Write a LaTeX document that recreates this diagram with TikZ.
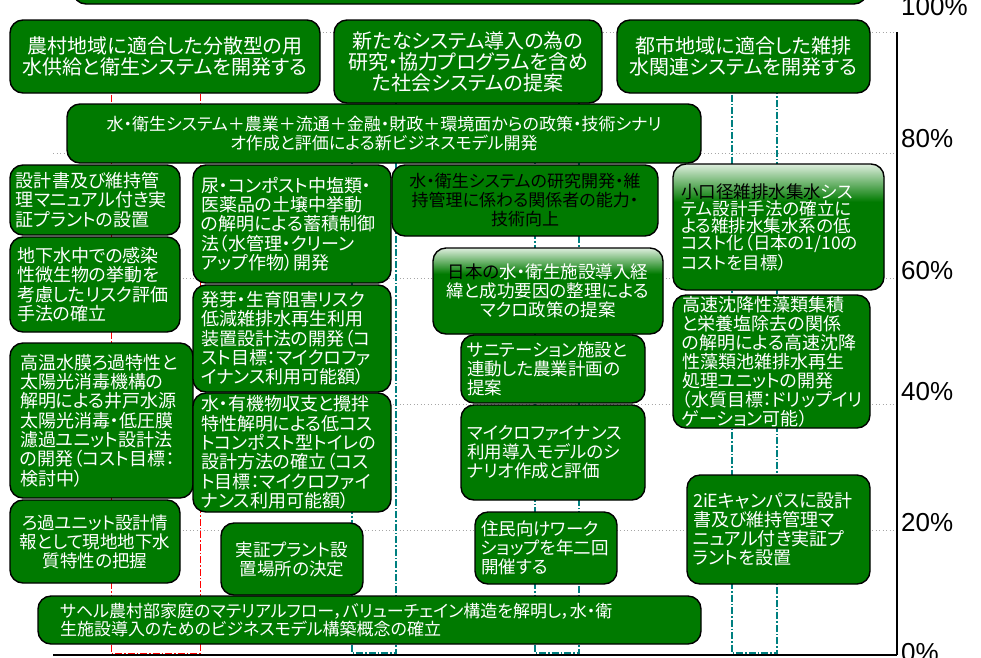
\documentclass[tikz,border=0pt]{standalone}
\usepackage{fontspec}
\newfontfamily\jpfont{Noto Sans CJK JP}[RawFeature={+palt}]
\newfontfamily\pctfont{Liberation Sans}
\definecolor{boxgreen}{RGB}{0,122,0}
\definecolor{barteal}{RGB}{0,128,128}
\definecolor{barred}{RGB}{255,0,0}
\definecolor{palegreen}{RGB}{222,238,222}
\pgfdeclareverticalshading{fadegreen}{100bp}{color(0bp)=(boxgreen); color(25bp)=(boxgreen); color(60bp)=(boxgreen); color(75bp)=(palegreen); color(100bp)=(palegreen)}
\begin{document}
\begin{tikzpicture}[x=1pt,y=-1pt,
 box/.style={draw=black, line width=1.4pt, fill=boxgreen, rounded corners=13pt, inner sep=0pt, text=white},
 lbox/.style={box, align=left},
 cbox/.style={box, align=center},
 fade/.style={shading=fadegreen},
 fbig/.style={font=\jpfont\fontsize{20}{21}\selectfont},
 fmid/.style={font=\jpfont\fontsize{18}{19.3}\selectfont},
 fsm/.style={font=\jpfont\fontsize{17.5}{19}\selectfont},
 gridln/.style={gray!70, line width=0.8pt, dash pattern=on 1pt off 2.5pt},
 redbar/.style={barred, line width=1pt, dash pattern=on 7pt off 2pt on 1.5pt off 2pt},
 tealbar/.style={barteal, line width=1.3pt, dash pattern=on 7pt off 2pt on 1.5pt off 2pt},
 pct/.style={font=\pctfont\fontsize{26}{26}\selectfont, anchor=base west, inner sep=0pt}
]
\clip (0,0) rectangle (981,657);
\fill[white] (0,0) rectangle (981,657);

% gridlines
\foreach \gy in {32,153,278,404,530}{
  \draw[gridln] (53,\gy) -- (897,\gy);
}
% bars
\draw[redbar] (111,32) -- (111,653) -- (200,653) -- (200,32);
\draw[tealbar] (352,32) -- (352,653) -- (396,653) -- (396,32);
\draw[tealbar] (535,32) -- (535,653) -- (579,653) -- (579,32);
\draw[tealbar] (732,32) -- (732,653) -- (777,653) -- (777,32);
% axes
\coordinate (axbl) at (53,655);
\coordinate (axbr) at (897,655);
\coordinate (axtr) at (897,32);
\draw[line width=1.6pt] (axbl) -- (axbr);
\draw[line width=1.3pt] (axtr) -- (axbr);

% percent labels
\node[pct] (p100) at (901,15) {100\%};
\node[pct] (p80) at (901,147) {80\%};
\node[pct] (p60) at (901,279) {60\%};
\node[pct] (p40) at (901,400) {40\%};
\node[pct] (p20) at (901,531) {20\%};
\node[pct] (p0) at (901,661) {0\%};

% boxes
\node[box, minimum width=794pt, minimum height=60pt] (topbox) at (470,-26) {};

\node[cbox, fbig, minimum width=310pt, minimum height=73pt, text width=306pt] (rural) at (165,56.5)
 {農村地域に適合した分散型の用\\水供給と衛生システムを開発する};
\node[cbox, fbig, minimum width=268pt, minimum height=83pt, text width=264pt] (newsys) at (468,61.5)
 {新たなシステム導入の為の\\研究・協力プログラムを含め\\た社会システムの提案};
\node[cbox, fbig, minimum width=253pt, minimum height=73pt, text width=249pt] (urban) at (743.5,56.5)
 {都市地域に適合した雑排\\水関連システムを開発する};

\node[cbox, font=\jpfont\fontsize{17}{18.5}\selectfont, minimum width=634pt, minimum height=59pt, text width=630pt] (policy) at (384,133.5)
 {水・衛生システム＋農業＋流通＋金融・財政＋環境面からの政策・技術シナリ\\オ作成と評価による新ビジネスモデル開発};

\node[lbox, fmid, minimum width=170pt, minimum height=70pt, text width=158pt] (plant) at (95,200)
 {設計書及び維持管\\理マニュアル付き実\\証プラントの設置};
\node[lbox, fmid, minimum width=170pt, minimum height=95pt, text width=156pt] (risk) at (95,284.5)
 {地下水中での感染\\性微生物の挙動を\\考慮したリスク評価\\手法の確立};
\node[lbox, fmid, minimum width=183pt, minimum height=155pt, text width=163pt] (membrane) at (101.5,420.5)
 {高温水膜ろ過特性と\\太陽光消毒機構の\\解明による井戸水源\\太陽光消毒・低圧膜\\濾過ユニット設計法\\の開発（コスト目標：\\検討中）};
\node[cbox, fsm, minimum width=170pt, minimum height=83pt, text width=166pt] (filter) at (95,541.5)
 {ろ過ユニット設計情\\報として現地地下水\\質特性の把握};

\node[lbox, fmid, minimum width=198pt, minimum height=118pt, text width=182pt] (urine) at (292,224)
 {尿・コンポスト中塩類・\\医薬品の土壌中挙動\\の解明による蓄積制御\\法（水管理・クリーン\\アップ作物）開発};
\node[lbox, fmid, minimum width=198pt, minimum height=107pt, text width=182pt] (germ) at (292,338.5)
 {発芽・生育阻害リスク\\低減雑排水再生利用\\装置設計法の開発（コ\\スト目標：マイクロファ\\イナンス利用可能額）};
\node[lbox, fmid, minimum width=198pt, minimum height=119pt, text width=182pt] (toilet) at (292,452.5)
 {水・有機物収支と攪拌\\特性解明による低コス\\トコンポスト型トイレの\\設計方法の確立（コス\\ト目標：マイクロファイ\\ナンス利用可能額）};
\node[cbox, fsm, minimum width=142pt, minimum height=72pt, text width=138pt] (site) at (292,559)
 {実証プラント設\\置場所の決定};

\node[lbox, font=\jpfont\fontsize{17}{17.5}\selectfont, minimum width=663pt, minimum height=48pt, text width=619pt] (sahel) at (369.5,620)
 {サヘル農村部家庭のマテリアルフロー，バリューチェイン構造を解明し，水・衛\\生施設導入のためのビジネスモデル構築概念の確立};

\node[cbox, text=black, font=\jpfont\fontsize{17}{19}\selectfont, minimum width=266pt, minimum height=71pt, text width=262pt] (capacity) at (525,200.5)
 {水・衛生システムの研究開発・維\\持管理に係わる関係者の能力・\\技術向上};
\node[cbox, fade, fsm, minimum width=230pt, minimum height=86pt, text width=226pt] (japan) at (548,291)
 {{\color{black}日本の}水・衛生施設導入経\\緯と成功要因の整理による\\マクロ政策の提案};
\node[lbox, fsm, minimum width=184pt, minimum height=68pt, text width=172pt] (agri) at (553,369)
 {サニテーション施設と\\連動した農業計画の\\提案};
\node[lbox, fsm, minimum width=184pt, minimum height=95pt, text width=172pt] (micro) at (553,452.5)
 {マイクロファイナンス\\利用導入モデルのシ\\ナリオ作成と評価};
\node[lbox, fsm, minimum width=142pt, minimum height=72pt, text width=130pt] (workshop) at (546,548)
 {住民向けワーク\\ショップを年二回\\開催する};

\node[lbox, fade, font=\jpfont\fontsize{17.5}{17.3}\selectfont, minimum width=211pt, minimum height=126pt, text width=195pt] (smallpipe) at (778.5,227)
 {{\color{black}小口径雑排水集水}シス\\テム設計手法の確立に\\よる雑排水集水系の低\\コスト化（日本の1/10の\\コストを目標）};
\node[lbox, font=\jpfont\fontsize{18}{19}\selectfont, minimum width=197pt, minimum height=133pt, text width=179pt] (algae) at (771.5,361.5)
 {高速沈降性藻類集積\\と栄養塩除去の関係\\の解明による高速沈降\\性藻類池雑排水再生\\処理ユニットの開発\\（水質目標：ドリップイリ\\ゲーション可能）};
\node[lbox, font=\jpfont\fontsize{18}{19}\selectfont, minimum width=183pt, minimum height=109pt, text width=171pt] (campus) at (778.5,529.5)
 {2iEキャンパスに設計\\書及び維持管理マ\\ニュアル付き実証プ\\ラントを設置};
\end{tikzpicture}
\end{document}
